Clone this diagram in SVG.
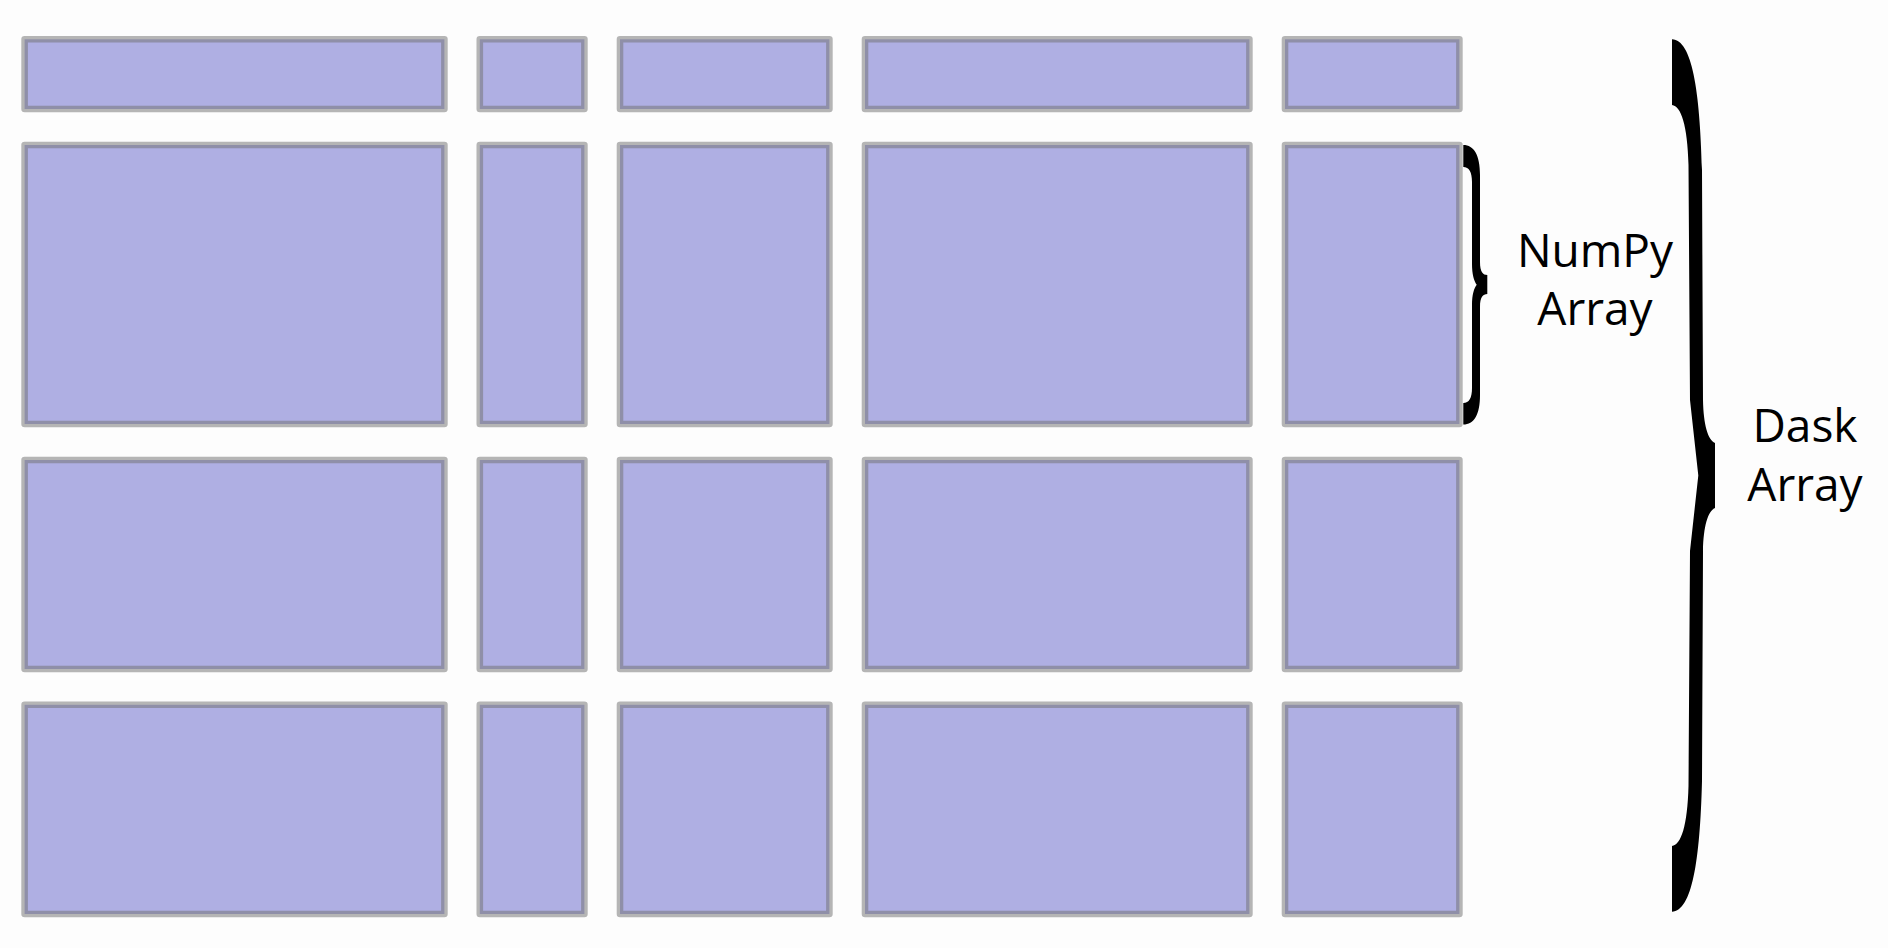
<svg xmlns="http://www.w3.org/2000/svg" width="1888" height="948" viewBox="0 0 1888 948">
<style>
.chunk{fill:#afafe3;stroke:#6f6f6f;stroke-opacity:0.51;stroke-width:6.6;stroke-linejoin:round}
.brace{fill:#000}
.lbl{font-family:"Open Sans","Noto Sans","DejaVu Sans",sans-serif;font-size:46px;fill:#000;text-anchor:middle}
</style>
<rect width="1888" height="948" fill="#fdfdfd"/>
<g id="chunks">
<g id="r1c1"><rect class="chunk" x="24.6" y="39.3" width="419.8" height="69.7"/></g>
<g id="r1c2"><rect class="chunk" x="479.8" y="39.3" width="104.6" height="69.7"/></g>
<g id="r1c3"><rect class="chunk" x="620" y="39.3" width="209.4" height="69.7"/></g>
<g id="r1c4"><rect class="chunk" x="865" y="39.3" width="384.4" height="69.7"/></g>
<g id="r1c5"><rect class="chunk" x="1285" y="39.3" width="174.4" height="69.7"/></g>
<g id="r2c1"><rect class="chunk" x="24.6" y="145" width="419.8" height="279"/></g>
<g id="r2c2"><rect class="chunk" x="479.8" y="145" width="104.6" height="279"/></g>
<g id="r2c3"><rect class="chunk" x="620" y="145" width="209.4" height="279"/></g>
<g id="r2c4"><rect class="chunk" x="865" y="145" width="384.4" height="279"/></g>
<g id="r2c5"><rect class="chunk" x="1285" y="145" width="174.4" height="279"/></g>
<g id="r3c1"><rect class="chunk" x="24.6" y="460" width="419.8" height="209"/></g>
<g id="r3c2"><rect class="chunk" x="479.8" y="460" width="104.6" height="209"/></g>
<g id="r3c3"><rect class="chunk" x="620" y="460" width="209.4" height="209"/></g>
<g id="r3c4"><rect class="chunk" x="865" y="460" width="384.4" height="209"/></g>
<g id="r3c5"><rect class="chunk" x="1285" y="460" width="174.4" height="209"/></g>
<g id="r4c1"><rect class="chunk" x="24.6" y="704.8" width="419.8" height="209.2"/></g>
<g id="r4c2"><rect class="chunk" x="479.8" y="704.8" width="104.6" height="209.2"/></g>
<g id="r4c3"><rect class="chunk" x="620" y="704.8" width="209.4" height="209.2"/></g>
<g id="r4c4"><rect class="chunk" x="865" y="704.8" width="384.4" height="209.2"/></g>
<g id="r4c5"><rect class="chunk" x="1285" y="704.8" width="174.4" height="209.2"/></g>
</g>
<g id="numpy-brace">
<path class="brace" d="M1463.3 145 C1474 145 1480 155 1480 175 L1480 262 C1480 272 1483 275 1487.3 275 L1487.3 294 C1483 294 1480 297 1480 307 L1480 395 C1480 415 1474 424.5 1463.3 424.5 L1463.3 403 C1469 403 1472 398 1472 388 L1472 305 C1472 295 1474 288 1476.7 284.7 C1474 281 1472 274 1472 264 L1472 182 C1472 172 1469 167 1463.3 167 Z"/>
<text class="lbl" x="1595" y="267">NumPy</text>
<text class="lbl" x="1595" y="325">Array</text>
</g>
<g id="dask-brace">
<path class="brace" d="M1672 39.3 C1692 40 1700 90 1702 170 L1703 400 C1703.5 425 1708 440 1715 443 L1715 508 C1708 511 1703.5 526 1703 551 L1702 781 C1700 861 1692 911 1672 911.7 L1672 846 C1681 845 1687.5 826 1688.5 786 L1690 551 L1698.3 475.5 L1690 400 L1688.5 165 C1687.5 125 1681 106 1672 105 Z"/>
<text class="lbl" x="1805" y="442">Dask</text>
<text class="lbl" x="1805" y="501">Array</text>
</g>
</svg>
